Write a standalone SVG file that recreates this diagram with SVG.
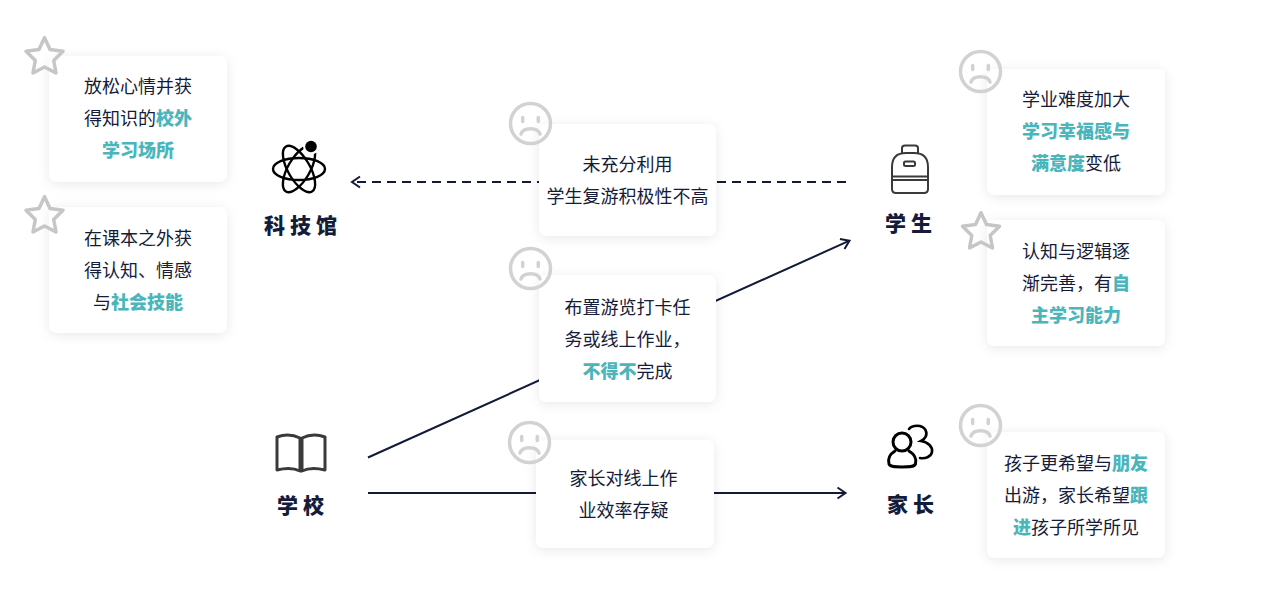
<svg xmlns="http://www.w3.org/2000/svg" width="1281" height="614" viewBox="0 0 1281 614">
<style>
text{font-family:"Noto Sans CJK SC","Noto Sans",sans-serif}
.t{font-size:18px;font-weight:400;fill:#141c3a;text-anchor:middle;transform:translateY(-0.5px)}
.h{font-weight:900;fill:#4ab6bc}
.l{font-size:21px;font-weight:900;fill:#141c3a;letter-spacing:5px}
.c{fill:#fff;filter:url(#s)}
.line{fill:none;stroke:#111a38;stroke-width:2}
.ic{fill:none;stroke:#000;stroke-width:2.4}
.bag{fill:none;stroke:#3a3a3a;stroke-width:2}
.star{fill:none;stroke:#c6c6c6;stroke-width:3.5;stroke-linejoin:round}
.sad{fill:none;stroke:#d2d2d2;stroke-width:3.5;stroke-linecap:round}
</style>
<defs>
<filter id="s" x="-20%" y="-20%" width="140%" height="140%"><feDropShadow dx="0" dy="2" stdDeviation="6" flood-color="#000" flood-opacity="0.09"/></filter>
<marker id="a" markerUnits="userSpaceOnUse" markerWidth="14" markerHeight="14" refX="11" refY="7" orient="auto"><path d="M3 1.5 11 7 3 12.500" fill="none" stroke="#111a38" stroke-width="2"/></marker>
<path id="st" class="star" d="M20.500 1.700 26 13.500 39 15.300 29.700 24.500 32 37 20.500 31 9 37 11.300 24.500 2 15.300 15 13.500Z"/>
<g id="fr" class="sad"><circle cx="21.500" cy="21.500" r="20"/><path d="M12 32C14.500 25 28.500 25 31 32"/><path d="M13.700 15.500v4M29.300 15.500v4"/></g>
</defs>
<g id="connectors">
<path class="line" stroke-dasharray="9 6" d="M846 182H352" marker-end="url(#a)"/>
<path class="line" d="M368 457.500 849.500 240.700" marker-end="url(#a)"/>
<path class="line" d="M368 493H845.500" marker-end="url(#a)"/>
</g>
<g id="card-1"><rect class="c" x="49" y="56" width="178" height="126" rx="8"/><use href="#st" x="24" y="36"/>
<text class="t" x="138" y="93">放松心情并获</text><text class="t" x="138" y="125">得知识的<tspan class="h">校外</tspan></text><text class="t" x="138" y="157"><tspan class="h">学习场所</tspan></text></g>
<g id="card-2"><rect class="c" x="49" y="207" width="178" height="126" rx="8"/><use href="#st" x="24" y="195"/>
<text class="t" x="138" y="245">在课本之外获</text><text class="t" x="138" y="277">得认知、情感</text><text class="t" x="138" y="309">与<tspan class="h">社会技能</tspan></text></g>
<g id="card-3"><rect class="c" x="539" y="124" width="177" height="112" rx="8"/><use href="#fr" x="509" y="102"/>
<text class="t" x="627.500" y="171">未充分利用</text><text class="t" x="627.500" y="203">学生复游积极性不高</text></g>
<g id="card-4"><rect class="c" x="539" y="275" width="177" height="127" rx="8"/><use href="#fr" x="509" y="247"/>
<text class="t" x="627.500" y="314">布置游览打卡任</text><text class="t" x="627.500" y="346">务或线上作业，</text><text class="t" x="627.500" y="378"><tspan class="h">不得不</tspan>完成</text></g>
<g id="card-5"><rect class="c" x="536" y="440" width="178" height="108" rx="8"/><use href="#fr" x="508" y="421"/>
<text class="t" x="623.500" y="485">家长对线上作</text><text class="t" x="623.500" y="517">业效率存疑</text></g>
<g id="card-6"><rect class="c" x="987" y="69" width="178" height="126" rx="8"/><use href="#fr" x="959" y="50"/>
<text class="t" x="1076" y="106">学业难度加大</text><text class="t" x="1076" y="138"><tspan class="h">学习幸福感与</tspan></text><text class="t" x="1076" y="170"><tspan class="h">满意度</tspan>变低</text></g>
<g id="card-7"><rect class="c" x="987" y="220" width="178" height="126" rx="8"/><use href="#st" x="960.500" y="211"/>
<text class="t" x="1076" y="258">认知与逻辑逐</text><text class="t" x="1076" y="290">渐完善，有<tspan class="h">自</tspan></text><text class="t" x="1076" y="322"><tspan class="h">主学习能力</tspan></text></g>
<g id="card-8"><rect class="c" x="987" y="432" width="178" height="126" rx="8"/><use href="#fr" x="959" y="404"/>
<text class="t" x="1076" y="470">孩子更希望与<tspan class="h">朋友</tspan></text><text class="t" x="1076" y="502">出游，家长希望<tspan class="h">跟</tspan></text><text class="t" x="1076" y="534"><tspan class="h">进</tspan>孩子所学所见</text></g>
<g id="node-museum">
<g class="ic"><ellipse cx="299" cy="169" rx="26" ry="11"/><ellipse cx="299" cy="169" rx="26" ry="11" transform="rotate(60 299 169)"/><ellipse cx="299" cy="169" rx="26" ry="11" transform="rotate(-60 299 169)"/></g>
<circle cx="311" cy="146.500" r="8" fill="#fff"/><circle cx="311" cy="146.500" r="5.800" fill="#000"/>
<text class="l" x="264" y="232.500">科技馆</text></g>
<g id="node-student">
<path class="bag" d="M902 153V148Q902 145.500 905 145.500H915Q918 145.500 918 148V153"/>
<path class="bag" d="M892 176V167Q892 153 906 153H914Q928 153 928 167V189Q928 193 924 193H896Q892 193 892 189V176Z"/>
<path class="bag" d="M892 176.500H928M892 180H928"/><rect class="bag" x="904" y="161.500" width="11" height="4.500" rx="1.500"/>
<text class="l" x="885" y="230.500">学生</text></g>
<g id="node-school">
<path d="M300 471C294 468 285 468 277 470V437C285 434 294 435 300 438ZM302 471C308 468 317 468 325 470V437C317 434 308 435 302 438Z" fill="none" stroke="#3a3a3a" stroke-width="3" stroke-linejoin="round"/>
<text class="l" x="277" y="512.500">学校</text></g>
<g id="node-parent">
<circle cx="902" cy="442" r="9" fill="none" stroke="#000" stroke-width="3"/>
<path fill="none" stroke="#000" stroke-width="3" stroke-linecap="round" d="M895 451C890 454 887.500 459 889 464C890 467 895 467 902 467C909 467 914 467 915.500 464C917 459 914 454 909 451"/>
<path fill="none" stroke="#000" stroke-width="2.600" stroke-linecap="round" d="M909 429C912 425 922 424 925.500 430C928 435 925 439 921 441C928 442 933 447 932 452C931 457 925 459 920 458"/>
<text class="l" x="887" y="511.500">家长</text></g>
</svg>
